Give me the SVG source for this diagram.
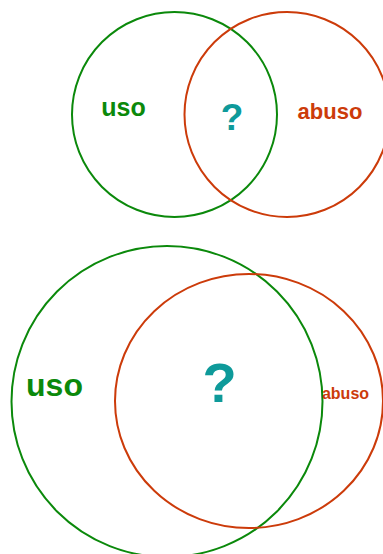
<svg xmlns="http://www.w3.org/2000/svg" width="383" height="554" viewBox="0 0 383 554">
<style>
.g{fill:none;stroke:#0b890b;stroke-width:2}
.o{fill:none;stroke:#cc3b0a;stroke-width:2}
text{font-family:"Liberation Sans",Arial,sans-serif;font-weight:bold;text-anchor:middle}
.tg{fill:#0b890b}.to{fill:#cc3b0a}.tq{fill:#0e9a9a}
</style>
<rect width="383" height="554" fill="#fff"/>
<g id="top-uso"><circle class="g" cx="174.5" cy="114.5" r="102.5"/><text class="tg" x="123.5" y="115.5" font-size="25">uso</text></g>
<g id="top-abuso"><circle class="o" cx="287" cy="114.5" r="102.5"/><text class="to" x="330" y="118.5" font-size="22">abuso</text></g>
<g id="top-q"><text class="tq" x="232" y="130" font-size="37">?</text></g>
<g id="bottom-uso"><circle class="g" cx="167" cy="401.5" r="155.5"/><text class="tg" x="54.5" y="395.5" font-size="32">uso</text></g>
<g id="bottom-abuso"><ellipse class="o" cx="249" cy="401" rx="134" ry="127"/><text class="to" x="345.5" y="399" font-size="16">abuso</text></g>
<g id="bottom-q"><text class="tq" x="219.5" y="402" font-size="56">?</text></g>
<g id="connectors"/>
</svg>
